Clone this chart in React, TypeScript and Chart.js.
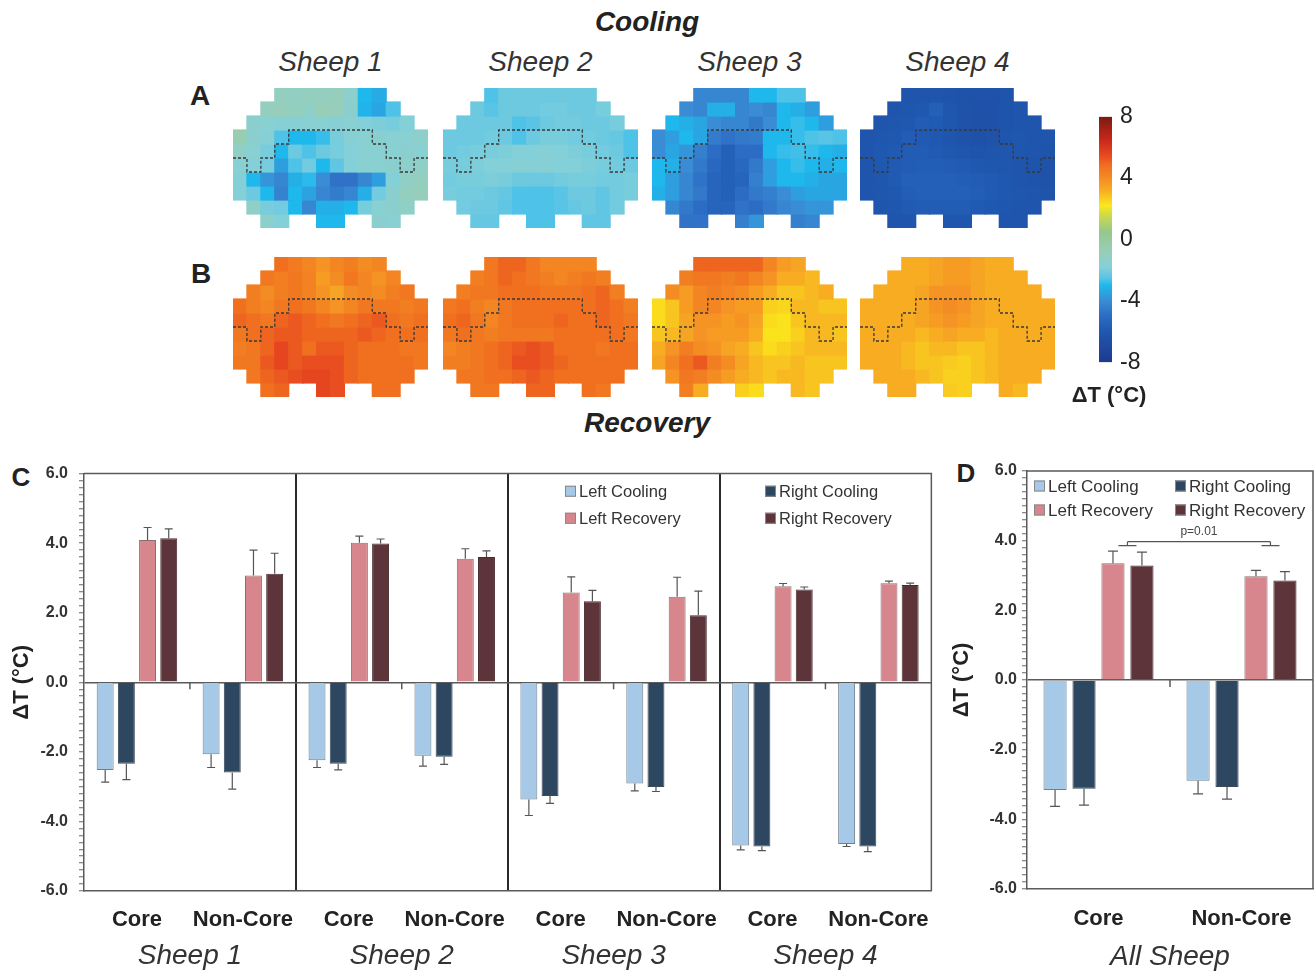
import React, { useEffect, useRef } from 'react';
import { Chart, registerables } from 'chart.js';
Chart.register(...registerables);

const FONT = "'Liberation Sans', Arial, Helvetica, sans-serif";
const _: any = null;

// ---------- Heatmap data (ΔT, °C), 10 rows x 14 columns, null = outside ----------
const SHEEP1_COOLING = [
  [_,_,_,-1.0,-1.1,-1.0,-1.0,-0.9,-1.4,-3.0,-3.3,_,_,_],
  [_,_,-1.0,-0.9,-1.0,-1.2,-0.8,-0.9,-1.5,-3.1,-3.4,-2.6,_,_],
  [_,-1.5,-1.6,-1.7,-1.7,-1.6,-1.6,-1.7,-1.6,-1.8,-1.9,-2.0,-1.8,_],
  [-0.6,-1.5,-1.7,-2.6,-3.0,-3.0,-2.8,-2.0,-1.7,-1.6,-1.5,-1.6,-1.6,-1.4],
  [-1.2,-1.6,-2.0,-3.0,-2.2,-2.6,-2.2,-2.0,-1.8,-1.6,-1.6,-1.6,-1.5,-1.6],
  [-1.6,-1.8,-2.0,-3.6,-2.6,-2.1,-3.0,-2.4,-1.8,-1.6,-1.6,-1.5,-1.4,-1.2],
  [-1.8,-3.0,-3.8,-4.2,-3.2,-2.9,-4.0,-4.8,-4.8,-4.2,-3.6,-1.8,-1.2,-1.0],
  [-1.8,-2.2,-3.0,-4.3,-3.0,-3.5,-4.2,-4.5,-4.2,-3.2,-2.1,-1.5,-1.0,-0.9],
  [_,-1.2,-2.0,-2.1,-3.0,-4.2,-3.2,-3.2,-3.0,-2.0,-1.6,-1.5,-1.3,_],
  [_,_,-1.4,-1.8,_,_,-3.0,-3.0,_,_,-1.5,-1.6,_,_],
];
const SHEEP2_COOLING = [
  [_,_,_,-2.6,-2.2,-2.2,-2.2,-2.2,-2.2,-2.2,-2.2,_,_,_],
  [_,_,-2.2,-2.5,-2.2,-2.2,-2.2,-2.1,-2.1,-2.2,-2.2,-2.0,_,_],
  [_,-2.2,-2.2,-2.2,-2.2,-2.6,-2.5,-2.2,-2.1,-2.1,-2.2,-2.2,-2.0,_],
  [-2.2,-2.2,-2.2,-2.1,-2.2,-2.6,-2.2,-2.0,-2.0,-2.1,-2.1,-2.2,-2.3,-2.6],
  [-2.2,-2.1,-2.0,-2.0,-1.9,-1.8,-1.8,-1.7,-1.8,-1.9,-2.0,-2.1,-2.2,-2.6],
  [-2.0,-2.0,-1.9,-1.8,-1.8,-1.7,-1.7,-1.7,-1.8,-1.8,-1.9,-2.0,-2.1,-2.2],
  [-2.1,-2.0,-2.0,-1.9,-2.0,-2.2,-2.2,-2.2,-2.1,-2.0,-2.0,-2.1,-2.1,-2.0],
  [-2.0,-2.1,-2.1,-2.2,-2.3,-2.6,-2.6,-2.6,-2.5,-2.2,-2.2,-2.4,-2.1,-2.0],
  [_,-2.1,-2.2,-2.2,-2.4,-2.6,-2.6,-2.6,-2.5,-2.3,-2.2,-2.4,-2.1,_],
  [_,_,-2.3,-2.3,_,_,-2.6,-2.6,_,_,-2.4,-2.4,_,_],
];
const SHEEP3_COOLING = [
  [_,_,_,-4.2,-4.2,-4.2,-4.2,-3.0,-3.0,-2.6,-2.6,_,_,_],
  [_,_,-4.0,-4.2,-3.2,-3.2,-4.2,-4.0,-4.2,-3.0,-3.2,-3.6,_,_],
  [_,-3.0,-3.2,-3.4,-4.0,-4.2,-4.2,-4.6,-4.0,-3.0,-2.8,-3.0,-3.6,_],
  [-4.0,-3.6,-3.0,-3.4,-4.5,-4.8,-4.6,-4.5,-3.0,-3.0,-2.8,-2.6,-2.5,-2.6],
  [-4.0,-3.4,-3.8,-4.4,-5.0,-5.6,-5.0,-5.0,-3.0,-2.8,-2.7,-2.8,-3.0,-3.2],
  [-3.0,-3.2,-4.0,-4.6,-5.2,-5.6,-5.2,-4.6,-3.6,-3.0,-2.8,-3.0,-3.2,-3.0],
  [-3.0,-3.6,-4.2,-4.8,-5.4,-5.6,-5.4,-4.4,-3.6,-3.0,-3.0,-3.2,-3.4,-3.4],
  [-3.2,-3.6,-4.2,-4.6,-5.4,-5.6,-5.0,-4.6,-4.4,-4.0,-3.6,-3.4,-3.4,-3.4],
  [_,-4.2,-4.6,-5.0,-5.4,-5.4,-4.8,-5.0,-4.6,-4.2,-4.0,-3.8,-3.8,_],
  [_,_,-4.8,-4.8,_,_,-4.4,-3.8,_,_,-4.4,-4.2,_,_],
];
const SHEEP4_COOLING = [
  [_,_,_,-6.2,-6.2,-6.2,-6.3,-6.4,-6.4,-6.4,-6.3,_,_,_],
  [_,_,-6.2,-6.1,-6.0,-5.6,-6.1,-6.4,-6.5,-6.5,-6.3,-6.2,_,_],
  [_,-6.2,-6.1,-6.0,-5.8,-5.9,-6.1,-6.4,-6.5,-6.5,-6.3,-6.2,-6.2,_],
  [-6.2,-6.1,-6.0,-5.8,-5.9,-6.0,-6.2,-6.4,-6.5,-6.4,-6.2,-6.1,-6.2,-6.2],
  [-6.2,-6.0,-5.9,-5.8,-5.8,-5.9,-6.0,-6.2,-6.3,-6.2,-6.1,-6.1,-6.2,-6.3],
  [-6.2,-6.0,-5.9,-5.8,-5.7,-5.7,-5.8,-5.9,-6.0,-6.1,-6.1,-6.2,-6.3,-6.4],
  [-6.2,-6.1,-5.9,-5.6,-5.6,-5.6,-5.6,-5.7,-5.8,-5.9,-6.0,-6.2,-6.3,-6.4],
  [-6.2,-6.1,-6.0,-5.7,-5.6,-5.6,-5.6,-5.6,-5.7,-5.9,-6.0,-6.1,-6.2,-6.3],
  [_,-6.2,-6.1,-5.9,-5.8,-5.8,-5.8,-5.8,-5.9,-6.0,-6.1,-6.2,-6.2,_],
  [_,_,-6.2,-6.2,_,_,-6.1,-6.1,_,_,-6.2,-6.2,_,_],
];
const SHEEP1_RECOVERY = [
  [_,_,_,4.8,4.5,4.2,3.8,4.2,4.4,4.0,4.2,_,_,_],
  [_,_,4.6,4.4,4.6,4.3,3.6,4.0,4.6,4.2,3.8,4.2,_,_],
  [_,4.4,4.0,4.4,4.6,4.3,3.8,3.4,4.0,4.2,4.0,4.4,4.6,_],
  [4.8,4.4,4.2,4.6,4.8,4.6,4.2,3.8,4.2,4.6,4.6,4.6,4.4,4.6],
  [5.0,4.8,4.6,5.0,5.2,5.0,4.8,4.6,4.8,5.0,5.2,4.8,4.6,4.8],
  [4.6,4.8,5.0,5.2,5.2,5.0,5.0,5.0,5.0,5.2,5.0,4.8,4.8,4.8],
  [4.4,4.6,5.0,5.6,5.2,4.8,5.2,5.2,5.0,4.8,4.8,4.8,4.6,4.6],
  [4.6,4.6,5.2,5.6,5.2,5.4,5.4,5.4,5.0,4.8,4.8,4.8,4.8,4.6],
  [_,4.6,5.0,5.2,5.4,5.6,5.6,5.4,5.0,4.8,4.8,4.8,4.8,_],
  [_,_,4.8,5.0,_,_,5.6,5.4,_,_,4.8,4.8,_,_],
];
const SHEEP2_RECOVERY = [
  [_,_,_,4.6,5.0,5.0,4.6,4.2,4.2,4.2,4.2,_,_,_],
  [_,_,4.4,4.6,5.0,4.8,4.6,4.4,4.2,4.4,4.6,4.4,_,_],
  [_,4.4,4.6,4.6,4.8,4.8,4.8,4.6,4.6,4.6,4.8,5.0,4.4,_],
  [4.6,4.8,4.4,4.2,4.6,4.8,4.8,4.8,4.8,4.8,4.8,5.0,4.8,4.4],
  [4.8,5.0,4.6,4.2,4.6,4.8,4.8,4.8,5.0,4.8,4.8,5.0,4.8,4.6],
  [4.6,4.8,4.6,4.4,4.6,4.6,4.6,4.6,4.8,4.8,4.8,4.8,4.8,4.6],
  [4.2,4.4,4.6,4.8,5.0,5.2,5.4,5.2,4.8,4.8,4.8,4.6,4.8,4.8],
  [4.4,4.4,4.6,4.8,5.0,5.4,5.4,5.2,5.0,4.8,4.8,4.8,4.8,4.8],
  [_,4.6,4.6,4.8,4.8,5.0,5.2,5.0,4.8,4.8,4.8,4.8,4.8,_],
  [_,_,4.6,4.6,_,_,5.0,5.0,_,_,4.8,4.6,_,_],
];
const SHEEP3_RECOVERY = [
  [_,_,_,5.0,5.0,5.0,5.0,5.0,4.2,3.6,3.4,_,_,_],
  [_,_,4.4,4.6,4.6,4.4,4.6,4.2,3.8,3.2,3.2,3.0,_,_],
  [_,4.0,3.6,4.2,4.4,4.2,4.0,3.6,3.2,2.8,2.8,3.0,3.2,_],
  [2.4,2.8,3.6,4.2,4.2,3.8,3.6,3.6,2.6,2.5,3.0,3.0,2.8,2.8],
  [2.4,2.8,3.4,3.8,3.8,3.6,3.8,3.4,2.4,2.3,2.8,3.0,3.0,3.0],
  [2.8,3.0,3.4,3.8,3.6,3.6,3.6,3.2,2.3,2.3,2.6,3.0,3.0,2.8],
  [3.2,3.8,4.4,4.0,3.8,3.4,3.2,2.8,2.4,2.6,2.8,3.0,3.0,3.0],
  [3.4,4.2,4.8,5.2,4.4,4.0,3.4,3.0,2.8,2.8,3.0,2.8,2.8,2.8],
  [_,3.8,4.6,4.4,4.0,3.6,3.2,3.0,2.8,3.0,3.0,2.8,2.8,_],
  [_,_,4.4,3.2,_,_,2.6,2.4,_,_,3.0,2.8,_,_],
];
const SHEEP4_RECOVERY = [
  [_,_,_,3.2,3.2,3.4,3.6,3.6,3.4,3.2,3.2,_,_,_],
  [_,_,3.2,3.2,3.2,3.4,3.6,3.6,3.4,3.2,3.2,3.2,_,_],
  [_,3.2,3.2,3.2,3.4,3.8,3.8,3.8,3.4,3.2,3.2,3.2,3.2,_],
  [3.2,3.2,3.2,3.2,3.4,3.8,4.0,3.8,3.4,3.2,3.2,3.2,3.2,3.2],
  [3.2,3.2,3.2,3.2,3.4,3.6,3.8,3.6,3.4,3.2,3.2,3.2,3.2,3.2],
  [3.2,3.2,3.2,3.2,3.0,3.2,3.4,3.2,3.2,3.0,3.2,3.2,3.2,3.2],
  [3.2,3.2,3.2,3.0,2.8,3.0,3.0,2.8,2.8,3.0,3.2,3.2,3.2,3.2],
  [3.2,3.2,3.2,3.0,2.8,2.8,2.7,2.6,2.8,3.0,3.2,3.2,3.2,3.2],
  [_,3.2,3.2,3.2,3.0,2.8,2.6,2.6,2.8,3.0,3.2,3.2,3.2,_],
  [_,_,3.2,3.2,_,_,2.7,2.6,_,_,3.2,3.0,_,_],
];

// dashed core boundary, in grid units (columns, rows)
const CONTOUR_X = [0,1,1,2,2,3,3,4,4,10,10,11,11,12,12,13,13,14];
const CONTOUR_Y = [5,5,6,6,5,5,4,4,3,3,4,4,5,5,6,6,5,5];

// colour scale ΔT -> rgb
const CMAP_VALUES = [-8,-6,-5,-4,-3,-2.5,-1.8,-0.8,0.5,1.5,2.2,2.6,3.2,4,4.8,5.5,6.5,8];
const CMAP_COLORS = [
  [30,58,142],[31,88,176],[44,108,196],[58,140,212],[30,184,236],[90,196,230],
  [132,208,216],[152,206,184],[148,200,140],[200,216,80],[250,232,28],[249,208,30],
  [247,172,34],[244,140,36],[240,112,32],[232,72,32],[200,40,25],[122,26,18],
];
const CBAR_MIN = -8;
const CBAR_MAX = 8;
const CBAR_STEP = 4;

// ---------- Bar chart data ----------
const CATEGORIES = ['Core','Non-Core','Core','Non-Core','Core','Non-Core','Core','Non-Core'];
const SHEEP_LABELS = ['Sheep 1','Sheep 2','Sheep 3','Sheep 4'];
const LEFT_COOLING = [-2.52,-2.07,-2.24,-2.11,-3.37,-2.91,-4.69,-4.65];
const LEFT_COOLING_ERR = [0.35,0.38,0.21,0.30,0.46,0.21,0.13,0.07];
const RIGHT_COOLING = [-2.34,-2.59,-2.34,-2.14,-3.27,-3.01,-4.72,-4.72];
const RIGHT_COOLING_ERR = [0.46,0.48,0.18,0.22,0.21,0.13,0.12,0.15];
const LEFT_RECOVERY = [4.09,3.07,4.01,3.55,2.58,2.46,2.76,2.85];
const LEFT_RECOVERY_ERR = [0.36,0.73,0.19,0.29,0.45,0.56,0.08,0.06];
const RIGHT_RECOVERY = [4.14,3.12,3.99,3.60,2.33,1.93,2.67,2.80];
const RIGHT_RECOVERY_ERR = [0.27,0.59,0.13,0.18,0.31,0.69,0.07,0.05];

const ALL_CATEGORIES = ['Core','Non-Core'];
const ALL_LABEL = ['All Sheep'];
const ALL_LEFT_COOLING = [-3.16,-2.89];
const ALL_LEFT_COOLING_ERR = [0.47,0.38];
const ALL_RIGHT_COOLING = [-3.12,-3.07];
const ALL_RIGHT_COOLING_ERR = [0.47,0.35];
const ALL_LEFT_RECOVERY = [3.35,2.98];
const ALL_LEFT_RECOVERY_ERR = [0.35,0.17];
const ALL_RIGHT_RECOVERY = [3.29,2.86];
const ALL_RIGHT_RECOVERY_ERR = [0.38,0.25];
const P_VALUE_TEXT = 'p=0.01';
const BRACKET_LEVEL = 3.97;

const SERIES_NAMES = ['Left Cooling','Right Cooling','Left Recovery','Right Recovery'];
const SERIES_COLORS = ['#a5c9e6','#2e4760','#d8868d','#5d3439'];
const SERIES_BORDERS = ['#6e7f8e','#3a4a5a','#8a6f72','#4a2c30'];

// ---------- helpers ----------
function colorFor(v: number): string {
  if (v <= CMAP_VALUES[0]) return `rgb(${CMAP_COLORS[0].join(',')})`;
  for (let i = 1; i < CMAP_VALUES.length; i++) {
    if (v <= CMAP_VALUES[i]) {
      const t = (v - CMAP_VALUES[i - 1]) / (CMAP_VALUES[i] - CMAP_VALUES[i - 1]);
      const a = CMAP_COLORS[i - 1], b = CMAP_COLORS[i];
      const c = a.map((x, k) => Math.round(x + (b[k] - x) * t));
      return `rgb(${c.join(',')})`;
    }
  }
  return `rgb(${CMAP_COLORS[CMAP_COLORS.length - 1].join(',')})`;
}

function ChartBox({ config, left, top, width, height }: any) {
  const ref = useRef<HTMLCanvasElement>(null);
  useEffect(() => {
    const chart = new Chart(ref.current as HTMLCanvasElement, config);
    return () => chart.destroy();
  }, []);
  return (
    <canvas ref={ref} width={width} height={height}
      style={{ position: 'absolute', left, top, width, height, display: 'block' }} />
  );
}

function heatmapConfig(grid: (number | null)[][]) {
  const cols = grid[0].length;
  const labels = Array.from({ length: cols }, (_v, i) => String(i));
  const datasets: any[] = grid.map((row, r) => ({
    type: 'bar',
    order: 1,
    data: row.map((v) => (v === null ? null : [r, r + 1])),
    backgroundColor: row.map((v) => (v === null ? 'rgba(0,0,0,0)' : colorFor(v))),
    borderWidth: 0,
    inflateAmount: 0.6,
    barPercentage: 1,
    categoryPercentage: 1,
    grouped: false,
    xAxisID: 'x',
    yAxisID: 'y',
  }));
  datasets.push({
    type: 'line',
    order: 0,
    data: CONTOUR_X.map((x, i) => ({ x, y: CONTOUR_Y[i] })),
    xAxisID: 'x2',
    yAxisID: 'y',
    borderColor: '#3a3a3a',
    borderWidth: 1.3,
    borderDash: [3, 2],
    pointRadius: 0,
    fill: false,
    clip: 4,
    tension: 0,
  });
  return {
    type: 'bar',
    data: { labels, datasets },
    options: {
      responsive: false,
      animation: false,
      events: [],
      layout: { padding: 0 },
      plugins: { legend: { display: false }, tooltip: { enabled: false } },
      scales: {
        x: { type: 'category', display: false, offset: true },
        x2: { type: 'linear', display: false, min: 0, max: cols, offset: false, grid: { offset: false } },
        y: { type: 'linear', display: false, min: 0, max: grid.length, reverse: true, offset: false },
      },
    },
  };
}

const colorbarConfig = {
  type: 'bar',
  data: {
    labels: [''],
    datasets: [{
      data: [[CBAR_MIN, CBAR_MAX]],
      borderWidth: 0,
      barPercentage: 1,
      categoryPercentage: 1,
      backgroundColor: (ctx: any) => {
        const { chart } = ctx;
        const area = chart.chartArea;
        if (!area) return '#888';
        const g = chart.ctx.createLinearGradient(0, area.bottom, 0, area.top);
        CMAP_VALUES.forEach((v, i) => {
          g.addColorStop((v - CBAR_MIN) / (CBAR_MAX - CBAR_MIN), `rgb(${CMAP_COLORS[i].join(',')})`);
        });
        return g;
      },
    }],
  },
  options: {
    responsive: false,
    animation: false,
    events: [],
    layout: { padding: { left: 9, top: 0, bottom: 0, right: 0 } },
    plugins: { legend: { display: false }, tooltip: { enabled: false } },
    scales: {
      x: { display: false },
      y: {
        position: 'right',
        min: CBAR_MIN,
        max: CBAR_MAX,
        grid: { display: false, drawTicks: false },
        border: { display: false },
        ticks: { stepSize: CBAR_STEP, padding: 8, color: '#222', font: { family: FONT, size: 23 } },
        afterFit: (s: any) => { s.width = 38; },
      },
    },
  },
};

const errorBarPlugin = {
  id: 'errbars',
  afterDatasetsDraw(chart: any, _args: any, opts: any) {
    const ctx = chart.ctx;
    const yScale = chart.scales.y;
    const half = (opts && opts.capHalf) || 4;
    chart.data.datasets.forEach((ds: any, i: number) => {
      if (!ds.errors) return;
      const meta = chart.getDatasetMeta(i);
      meta.data.forEach((bar: any, j: number) => {
        const v = ds.data[j];
        const e = ds.errors[j];
        if (v == null || e == null) return;
        const yEnd = yScale.getPixelForValue(v + Math.sign(v) * e);
        ctx.save();
        ctx.strokeStyle = '#555';
        ctx.lineWidth = 1.2;
        ctx.beginPath();
        ctx.moveTo(bar.x, bar.y);
        ctx.lineTo(bar.x, yEnd);
        ctx.moveTo(bar.x - half, yEnd);
        ctx.lineTo(bar.x + half, yEnd);
        ctx.stroke();
        ctx.restore();
      });
    });
  },
};

const framePlugin = {
  id: 'frame',
  afterDatasetsDraw(chart: any) {
    const { ctx, chartArea: a } = chart;
    const x = chart.scales.x, y = chart.scales.y;
    ctx.save();
    ctx.strokeStyle = '#5a5a5a';
    ctx.lineWidth = 1.5;
    ctx.beginPath();
    ctx.moveTo(a.left, a.top);
    ctx.lineTo(a.right, a.top);
    ctx.lineTo(a.right, a.bottom);
    ctx.stroke();
    // small tick at zero between Core and Non-Core
    const y0 = y.getPixelForValue(0);
    for (let i = 0; i + 1 < x.ticks.length; i += 2) {
      const xm = (x.getPixelForValue(i) + x.getPixelForValue(i + 1)) / 2;
      ctx.beginPath();
      ctx.moveTo(xm, y0);
      ctx.lineTo(xm, y0 + 7);
      ctx.stroke();
    }
    ctx.restore();
  },
};

const bracketPlugin = {
  id: 'bracket',
  afterDatasetsDraw(chart: any) {
    const { ctx } = chart;
    const y = chart.scales.y;
    const m2 = chart.getDatasetMeta(2), m3 = chart.getDatasetMeta(3);
    const xa = (m2.data[0].x + m3.data[0].x) / 2;
    const xb = (m2.data[1].x + m3.data[1].x) / 2;
    const yl = y.getPixelForValue(BRACKET_LEVEL);
    ctx.save();
    ctx.strokeStyle = '#555';
    ctx.lineWidth = 1.2;
    ctx.beginPath();
    ctx.moveTo(xa, yl); ctx.lineTo(xb, yl);
    ctx.moveTo(xa, yl); ctx.lineTo(xa, yl + 4);
    ctx.moveTo(xb, yl); ctx.lineTo(xb, yl + 4);
    ctx.moveTo(xa - 9, yl + 4); ctx.lineTo(xa + 9, yl + 4);
    ctx.moveTo(xb - 9, yl + 4); ctx.lineTo(xb + 9, yl + 4);
    ctx.stroke();
    ctx.fillStyle = '#444';
    ctx.font = `12px ${FONT}`;
    ctx.textAlign = 'center';
    ctx.textBaseline = 'bottom';
    ctx.fillText(P_VALUE_TEXT, (xa + xb) / 2, yl - 4);
    ctx.restore();
  },
};

function barConfig(p: any) {
  const series = [p.lc, p.rc, p.lr, p.rr];
  const errs = [p.lcE, p.rcE, p.lrE, p.rrE];
  return {
    type: 'bar',
    data: {
      labels: p.categories,
      datasets: series.map((d: number[], i: number) => ({
        label: SERIES_NAMES[i],
        data: d,
        errors: errs[i],
        backgroundColor: SERIES_COLORS[i],
        borderColor: SERIES_BORDERS[i],
        borderWidth: 1,
        categoryPercentage: p.catPct,
        barPercentage: 0.8,
      })),
    },
    options: {
      responsive: false,
      animation: false,
      events: [],
      layout: { padding: p.padding },
      plugins: { legend: { display: false }, tooltip: { enabled: false }, errbars: { capHalf: p.capHalf } },
      scales: {
        x: {
          type: 'category',
          offset: true,
          weight: 0,
          grid: {
            display: true,
            drawOnChartArea: true,
            drawTicks: false,
            offset: true,
            color: (c: any) => (p.dividers.includes(c.index) ? '#2a2a2a' : 'rgba(0,0,0,0)'),
            lineWidth: 2,
          },
          border: { display: true, color: '#5a5a5a', width: 1.5 },
          ticks: { font: { family: FONT, size: 22, weight: 'bold' }, color: '#222', padding: p.xPad, maxRotation: 0, autoSkip: false },
          afterFit: (s: any) => { s.height = p.xHeight; },
        },
        x2: {
          type: 'category',
          labels: p.groups,
          offset: true,
          position: 'bottom',
          weight: 1,
          grid: { display: false, drawTicks: false },
          border: { display: false },
          ticks: { font: { family: FONT, size: 28, style: 'italic' }, color: '#333', padding: p.x2Pad, maxRotation: 0, autoSkip: false },
          afterFit: (s: any) => { s.height = p.x2Height; },
        },
        y: {
          min: -6,
          max: 6,
          ticks: {
            stepSize: 0.2,
            autoSkip: false,
            padding: p.yPad,
            color: '#333',
            font: { family: FONT, size: 16, weight: 'bold' },
            callback: (v: number) => {
              const r = Math.round(v * 10) / 10;
              return Math.abs(r % 2) < 1e-6 ? r.toFixed(1) : '';
            },
          },
          grid: {
            drawOnChartArea: true,
            color: (c: any) => (c.tick && Math.abs(c.tick.value) < 1e-6 ? '#5a5a5a' : 'rgba(0,0,0,0)'),
            lineWidth: 1.5,
            tickColor: '#666',
            tickLength: 5,
            tickWidth: 1,
          },
          border: { display: true, color: '#5a5a5a', width: 1.5 },
          title: {
            display: true,
            text: 'ΔT (°C)',
            color: '#222',
            font: { family: FONT, size: 22, weight: 'bold' },
            padding: { top: p.titlePad, bottom: 0 },
          },
          afterFit: (s: any) => { s.width = p.yWidth; },
        },
      },
    },
    plugins: p.plugins,
  };
}

const chartC = barConfig({
  categories: CATEGORIES, groups: SHEEP_LABELS,
  lc: LEFT_COOLING, rc: RIGHT_COOLING, lr: LEFT_RECOVERY, rr: RIGHT_RECOVERY,
  lcE: LEFT_COOLING_ERR, rcE: RIGHT_COOLING_ERR, lrE: LEFT_RECOVERY_ERR, rrE: RIGHT_RECOVERY_ERR,
  catPct: 0.8, capHalf: 4, dividers: [2, 4, 6],
  padding: { left: 0, right: 8, top: 19, bottom: 0 },
  xPad: 16, xHeight: 42, x2Pad: 6, x2Height: 40, yPad: 11, yWidth: 84, titlePad: 9,
  plugins: [errorBarPlugin, framePlugin],
});

const chartD = barConfig({
  categories: ALL_CATEGORIES, groups: ALL_LABEL,
  lc: ALL_LEFT_COOLING, rc: ALL_RIGHT_COOLING, lr: ALL_LEFT_RECOVERY, rr: ALL_RIGHT_RECOVERY,
  lcE: ALL_LEFT_COOLING_ERR, rcE: ALL_RIGHT_COOLING_ERR, lrE: ALL_LEFT_RECOVERY_ERR, rrE: ALL_RIGHT_RECOVERY_ERR,
  catPct: 0.81, capHalf: 5, dividers: [],
  padding: { left: 0, right: 2, top: 16, bottom: 0 },
  xPad: 17, xHeight: 42, x2Pad: 9, x2Height: 42, yPad: 5, yWidth: 82, titlePad: 4,
  plugins: [errorBarPlugin, framePlugin, bracketPlugin],
});

function Txt({ x, y, size, bold, italic, color = '#222', align = 'center', children }: any) {
  return (
    <div style={{
      position: 'absolute', left: x, top: y,
      transform: align === 'center' ? 'translate(-50%,-50%)' : 'translate(0,-50%)',
      font: `${italic ? 'italic ' : ''}${bold ? 'bold ' : ''}${size}px ${FONT}`,
      color, whiteSpace: 'nowrap', lineHeight: 1,
    }}>{children}</div>
  );
}

function LegendItem({ x, y, idx, size = 16.5 }: any) {
  return (
    <div style={{ position: 'absolute', left: x, top: y, transform: 'translate(0,-50%)', display: 'flex', alignItems: 'center', whiteSpace: 'nowrap' }}>
      <div style={{ width: 9, height: 9, background: SERIES_COLORS[idx], border: '1px solid #888', marginRight: 3 }} />
      <span style={{ font: `${size}px ${FONT}`, color: '#333', lineHeight: 1 }}>{SERIES_NAMES[idx]}</span>
    </div>
  );
}

const HEAT_X = [233, 443, 652, 860];
const COOLING_GRIDS = [SHEEP1_COOLING, SHEEP2_COOLING, SHEEP3_COOLING, SHEEP4_COOLING];
const RECOVERY_GRIDS = [SHEEP1_RECOVERY, SHEEP2_RECOVERY, SHEEP3_RECOVERY, SHEEP4_RECOVERY];

export default function App() {
  useEffect(() => { document.body.style.margin = '0'; }, []);
  return (
    <div style={{ position: 'absolute', left: 0, top: 0, width: 1315, height: 973, background: '#fff', overflow: 'hidden' }}>
      <Txt x={647} y={22} size={28} bold italic>Cooling</Txt>
      {SHEEP_LABELS.map((s, i) => (
        <Txt key={s} x={HEAT_X[i] + 97.5} y={62} size={28} italic color="#333">{s}</Txt>
      ))}
      <Txt x={200} y={96} size={28} bold>A</Txt>
      <Txt x={201} y={274} size={28} bold>B</Txt>
      {COOLING_GRIDS.map((g, i) => (
        <ChartBox key={'c' + i} config={heatmapConfig(g)} left={HEAT_X[i]} top={88} width={195} height={140} />
      ))}
      {RECOVERY_GRIDS.map((g, i) => (
        <ChartBox key={'r' + i} config={heatmapConfig(g)} left={HEAT_X[i]} top={257} width={195} height={140} />
      ))}
      <Txt x={647} y={423} size={28} bold italic>Recovery</Txt>
      <ChartBox config={colorbarConfig} left={1090} top={95} width={60} height={289} />
      <Txt x={1109} y={395} size={22} bold>ΔT (°C)</Txt>

      <Txt x={21} y={477} size={26} bold>C</Txt>
      <ChartBox config={chartC} left={0} top={453} width={945} height={520} />
      <LegendItem x={565} y={491} idx={0} />
      <LegendItem x={565} y={518} idx={2} />
      <LegendItem x={765} y={491} idx={1} />
      <LegendItem x={765} y={518} idx={3} />

      <Txt x={966} y={473} size={26} bold>D</Txt>
      <ChartBox config={chartD} left={945} top={455} width={370} height={518} />
      <LegendItem x={1034} y={486} idx={0} size={17} />
      <LegendItem x={1034} y={510} idx={2} size={17} />
      <LegendItem x={1175} y={486} idx={1} size={17} />
      <LegendItem x={1175} y={510} idx={3} size={17} />
    </div>
  );
}
